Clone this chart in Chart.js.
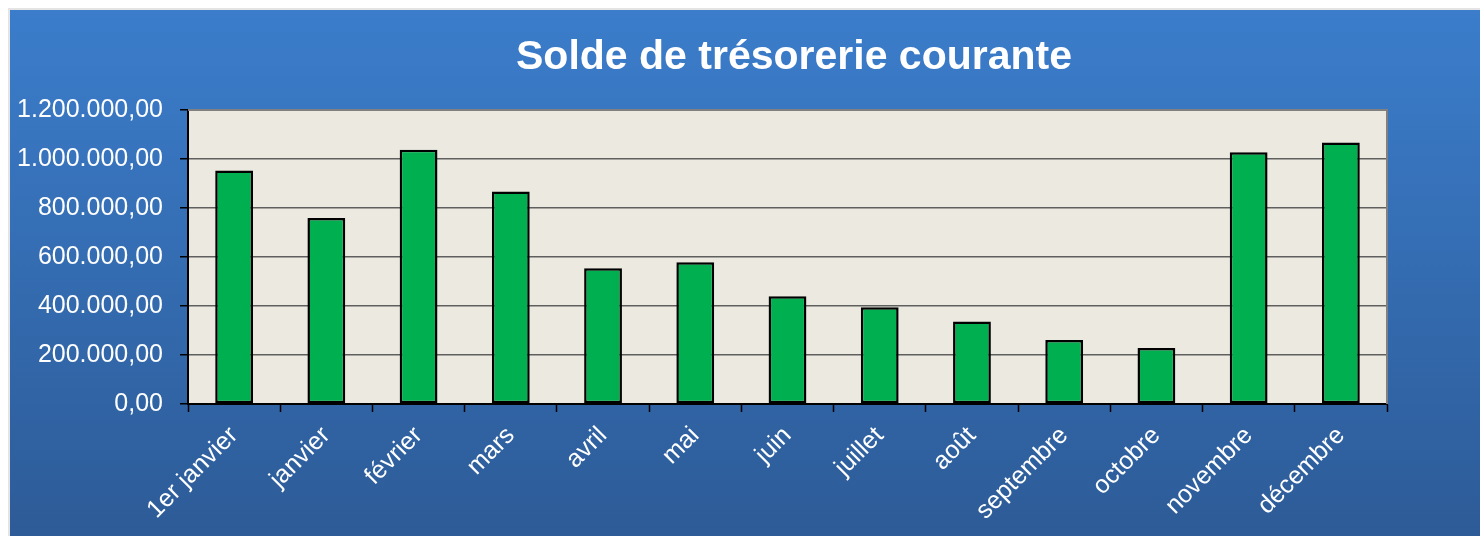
<!DOCTYPE html>
<html>
<head>
<meta charset="utf-8">
<script src="https://cdn.jsdelivr.net/npm/chart.js@4/dist/chart.umd.min.js"></script>
<style>
html,body{margin:0;padding:0;background:#fff;}
#wrap{width:1480px;height:536px;position:relative;}
</style>
</head>
<body>
<div id="wrap"><canvas id="c" width="1480" height="536"></canvas></div>
<script>
const categories = ["1er janvier","janvier","février","mars","avril","mai","juin","juillet","août","septembre","octobre","novembre","décembre"];
const soldeValues = [953000, 759000, 1038000, 867000, 554000, 579000, 440000, 395000, 337000, 261000, 229000, 1028000, 1067000];
const yTicks = [0, 200000, 400000, 600000, 800000, 1000000, 1200000];
const chartTitle = "Solde de trésorerie courante";

function fmt(v){
  const s = Math.round(v).toString().replace(/\B(?=(\d{3})+(?!\d))/g, ".");
  return s + ",00";
}

const bgPlugin = {
  id: 'bgPlugin',
  beforeDraw(chart){
    const ctx = chart.ctx;
    const W = chart.width, H = chart.height;
    ctx.save();
    ctx.fillStyle = '#ffffff';
    ctx.fillRect(0,0,W,H);
    ctx.fillStyle = '#e4e4e4';
    ctx.fillRect(8,8,W-8,H-8);
    const g = ctx.createLinearGradient(0,10,0,H);
    g.addColorStop(0,'#3b7dcb');
    g.addColorStop(1,'#2d5b97');
    ctx.fillStyle = g;
    ctx.fillRect(10,10,W-10,H-10);
    const a = chart.chartArea;
    ctx.fillStyle = '#eceae0';
    ctx.fillRect(a.left,a.top,a.right-a.left,a.bottom-a.top);
    ctx.restore();
  },
  afterDraw(chart){
    const ctx = chart.ctx, a = chart.chartArea;
    ctx.save();
    ctx.strokeStyle = '#808080';
    ctx.lineWidth = 2;
    ctx.beginPath();
    ctx.moveTo(a.left, a.top);
    ctx.lineTo(a.right, a.top);
    ctx.lineTo(a.right, a.bottom);
    ctx.stroke();
    // title
    ctx.fillStyle = '#ffffff';
    ctx.font = 'bold 41px "Liberation Sans", Arial, sans-serif';
    ctx.textAlign = 'center';
    ctx.textBaseline = 'middle';
    ctx.fillText(chartTitle, 794, 58);
    ctx.restore();
  }
};

new Chart(document.getElementById('c'), {
  type: 'bar',
  data: {
    labels: categories,
    datasets: [{
      data: soldeValues,
      backgroundColor: '#00b050',
      borderColor: '#000000',
      borderWidth: 2.5,
      borderSkipped: false,
      barPercentage: 0.41,
      categoryPercentage: 1.0
    }]
  },
  options: {
    responsive: false,
    animation: false,
    layout: { padding: { top: 110, left: 10, right: 93, bottom: 0 } },
    plugins: {
      legend: { display: false },
      tooltip: { enabled: false },
      title: { display: false }
    },
    scales: {
      x: {
        grid: { offset: true, drawOnChartArea: false, tickLength: 8, tickColor: '#000000', tickWidth: 1.5 },
        border: { display: true, color: '#000000', width: 2 },
        ticks: {
          color: '#ffffff',
          font: { family: 'Liberation Sans, Arial, sans-serif', size: 25 },
          minRotation: 45, maxRotation: 45, padding: 9, autoSkip: false
        },
        afterFit(scale){ scale.height = 132; }
      },
      y: {
        min: 0, max: 1200000,
        afterBuildTicks(scale){ scale.ticks = yTicks.map(v => ({value: v})); },
        grid: { color: '#5f5f5f', lineWidth: 1.5, tickLength: 8, tickColor: '#000000' },
        border: { display: true, color: '#000000', width: 2 },
        ticks: {
          color: '#ffffff',
          font: { family: 'Liberation Sans, Arial, sans-serif', size: 25 },
          padding: 17,
          callback: (v) => fmt(v)
        },
        afterFit(scale){ scale.width = 178; }
      }
    }
  },
  plugins: [bgPlugin]
});
</script>
</body>
</html>
